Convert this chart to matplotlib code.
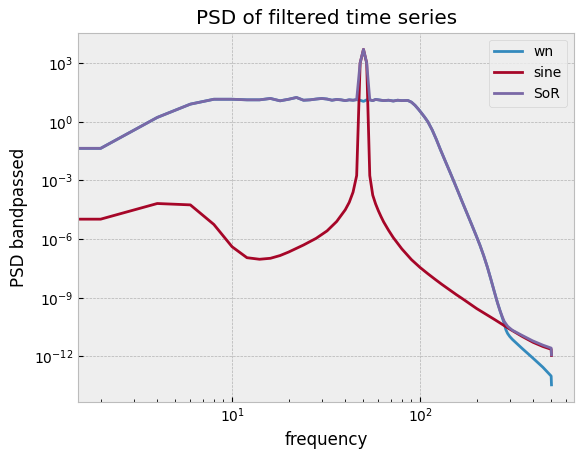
import numpy as np
import matplotlib
matplotlib.use("Agg")
import matplotlib.pyplot as plt

plt.style.use("bmh")

# frequency grid (Hz) for the noise-based series
freq_noise = [0, 2, 4, 6, 8, 10, 12, 14, 16, 18, 20, 22, 24, 26, 28, 30, 32, 34, 36, 38,
              40, 42, 44, 46, 48, 50, 52, 54, 56, 58, 60, 64, 68, 72, 76, 80, 86,
              90, 94, 98, 102, 106, 110,
              116, 122, 128, 136, 144, 152, 160, 168, 178, 188, 198, 208, 218, 228, 238,
              248, 258, 266, 274,
              280, 286, 292, 300, 310, 350, 397, 450, 498, 500]
# log10 of PSD values
wn_exp = [-1.36, -1.36, 0.22, 0.90, 1.15, 1.15, 1.12, 1.12, 1.19, 1.07, 1.15, 1.24, 1.10, 1.12,
          1.16, 1.19, 1.16, 1.10, 1.14, 1.12, 1.08, 1.12, 1.10, 1.13, 1.10, 1.04, 1.12, 1.12,
          1.08, 1.14, 1.12, 1.08, 1.10, 1.06, 1.10, 1.08, 1.09,
          1.00, 0.84, 0.64, 0.43, 0.22, 0.00,
          -0.42, -0.90, -1.40, -2.00, -2.56, -3.10, -3.62, -4.12, -4.70, -5.25, -5.78, -6.30,
          -6.85, -7.43, -8.05, -8.67, -9.25, -9.65, -10.03,
          -10.30, -10.63, -10.82, -10.98, -11.13, -11.60, -12.07, -12.55, -13.00, -13.45]
sor_exp = [-1.36, -1.36, 0.22, 0.90, 1.15, 1.15, 1.12, 1.12, 1.19, 1.07, 1.15, 1.24, 1.10, 1.12,
           1.16, 1.19, 1.16, 1.10, 1.14, 1.12, 1.08, 1.12, 1.10, 1.13, 3.01, 3.70, 3.01, 1.12,
           1.08, 1.14, 1.12, 1.08, 1.10, 1.06, 1.10, 1.08, 1.09,
           1.00, 0.84, 0.64, 0.43, 0.22, 0.00,
           -0.42, -0.90, -1.40, -2.00, -2.56, -3.10, -3.62, -4.12, -4.70, -5.25, -5.78, -6.30,
           -6.85, -7.43, -8.05, -8.67, -9.25, -9.65, -9.98,
           -10.20, -10.33, -10.45, -10.55, -10.66, -10.93, -11.20, -11.42, -11.57, -11.92]

freq_sine = [0, 2, 4, 6, 8, 10, 12, 14, 16, 18, 20, 24, 28, 32, 36, 40, 42, 44, 46, 48, 50,
             52, 54, 56, 58, 60, 62, 64, 68, 72, 80, 90, 100, 110, 120, 130, 140, 156, 170,
             186, 200, 250, 300, 350, 400, 450, 498, 500]
sine_exp = [-4.98, -4.98, -4.18, -4.25, -5.25, -6.39, -6.95, -7.03, -6.98, -6.84, -6.66, -6.30,
            -5.96, -5.58, -5.10, -4.50, -4.12, -3.60, -2.75, 3.00, 3.70,
            3.00, -2.75, -3.75, -4.20, -4.55, -4.85, -5.12, -5.55, -5.92, -6.50, -7.05, -7.45,
            -7.77, -8.05, -8.30, -8.52, -8.84, -9.08,
            -9.34, -9.55, -10.12, -10.60, -10.98, -11.28, -11.49, -11.63, -11.95]

labels = ["wn", "sine", "SoR"]

fig = plt.figure(figsize=(5.83, 4.59), dpi=100)
ax = fig.add_subplot(111)
fig.subplots_adjust(left=0.134, right=0.9846, top=0.929, bottom=0.125)

ax.loglog(freq_noise, 10.0 ** np.array(wn_exp), label=labels[0])
ax.loglog(freq_sine, 10.0 ** np.array(sine_exp), label=labels[1])
ax.loglog(freq_noise, 10.0 ** np.array(sor_exp), label=labels[2])

ax.set_title("PSD of filtered time series")
ax.set_xlabel("frequency")
ax.set_ylabel("PSD bandpassed")
ax.legend(loc="upper right")

fig.savefig("out.png", dpi=100)
